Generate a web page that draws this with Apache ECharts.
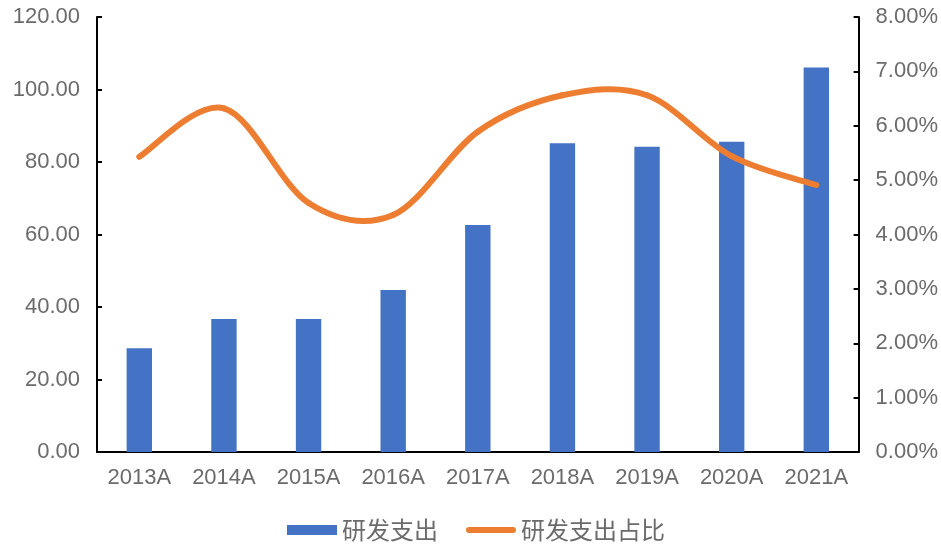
<!DOCTYPE html>
<html><head><meta charset="utf-8">
<script src="https://cdn.jsdelivr.net/npm/echarts@6/dist/echarts.min.js"></script>
<style>html,body{margin:0;padding:0;background:#fff}#c{width:941px;height:545px}</style>
</head><body><div id="c"></div>
<script>
var categories = ['2013A','2014A','2015A','2016A','2017A','2018A','2019A','2020A','2021A'];
var rdSpend = [28.6, 36.7, 36.7, 44.7, 62.6, 85.2, 84.2, 85.6, 106.1];
var rdRatio = [5.43, 6.32, 4.58, 4.36, 5.89, 6.56, 6.56, 5.44, 4.91];
var seriesNames = ['研发支出', '研发支出占比'];

var font = '"Liberation Sans", sans-serif';
var labelColor = '#6b6b6b';
var lineColor = '#ED7D31';

// Excel-like (Catmull-Rom) smoothing of the ratio series, drawn through the chart's own axes
function renderSegment(params, api) {
  var i = params.dataIndex, n = rdRatio.length;
  if (i >= n - 1) return null;
  function pt(j) { j = Math.max(0, Math.min(n - 1, j)); return api.coord([j, rdRatio[j]]); }
  var p0 = pt(i - 1), p1 = pt(i), p2 = pt(i + 1), p3 = pt(i + 2);
  return {
    type: 'bezierCurve',
    shape: {
      x1: p1[0], y1: p1[1], x2: p2[0], y2: p2[1],
      cpx1: p1[0] + (p2[0] - p0[0]) / 6, cpy1: p1[1] + (p2[1] - p0[1]) / 6,
      cpx2: p2[0] - (p3[0] - p1[0]) / 6, cpy2: p2[1] - (p3[1] - p1[1]) / 6
    },
    style: {stroke: lineColor, lineWidth: 6, fill: null, lineCap: 'round', lineJoin: 'round'}
  };
}

var lineIcon = 'path://M0,0Z M50,10Z M3,2 L47,2 A3,3 0 0 1 47,8 L3,8 A3,3 0 0 1 3,2 Z';

var chart = echarts.init(document.getElementById('c'));
chart.setOption({
  animation: false,
  textStyle: {fontFamily: font},
  grid: {left: 97, right: 79, top: 17, bottom: 93, containLabel: false},
  legend: {
    left: 282, top: 513, itemWidth: 50, itemHeight: 10, itemGap: 28,
    textStyle: {fontSize: 24, color: labelColor, fontFamily: '"Noto Sans CJK SC", sans-serif'},
    data: [{name: seriesNames[0], icon: 'rect'}, {name: seriesNames[1], icon: lineIcon}]
  },
  xAxis: {
    type: 'category', data: categories,
    axisLine: {lineStyle: {color: '#000', width: 2}},
    axisTick: {inside: true, length: 5, lineStyle: {color: '#000', width: 2}},
    axisLabel: {fontSize: 22, color: labelColor, margin: 15}
  },
  yAxis: [{
    type: 'value', min: 0, max: 120, interval: 20,
    axisLine: {show: true, lineStyle: {color: '#000', width: 2}},
    axisTick: {show: true, inside: true, length: 5, lineStyle: {color: '#000', width: 2}},
    splitLine: {show: false},
    axisLabel: {fontSize: 22, color: labelColor, margin: 17, formatter: function(v){return v.toFixed(2);}}
  }, {
    type: 'value', min: 0, max: 8, interval: 1,
    axisLine: {show: true, lineStyle: {color: '#000', width: 2}},
    axisTick: {show: true, inside: true, length: 5, lineStyle: {color: '#000', width: 2}},
    splitLine: {show: false},
    axisLabel: {fontSize: 22, color: labelColor, margin: 17, formatter: function(v){return v.toFixed(2) + '%';}}
  }],
  series: [{
    name: seriesNames[0], type: 'bar', data: rdSpend, barWidth: '30%',
    itemStyle: {color: '#4472C4'}
  }, {
    name: seriesNames[1], type: 'custom', yAxisIndex: 1,
    data: rdRatio.map(function(v, i){ return [i, v]; }),
    encode: {x: 0, y: 1},
    renderItem: renderSegment,
    itemStyle: {color: lineColor},
    z: 3
  }]
});
</script></body></html>
